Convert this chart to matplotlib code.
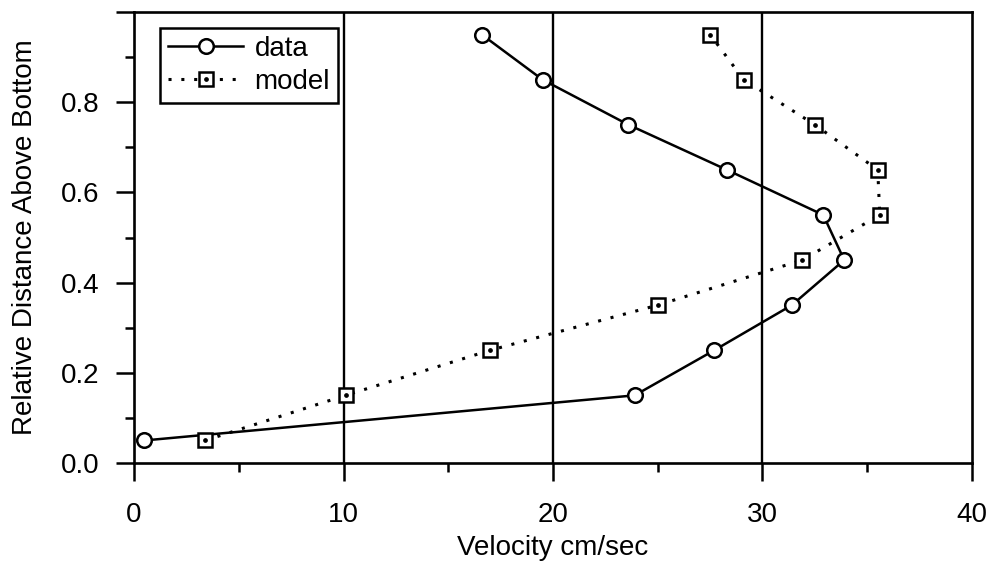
import matplotlib.pyplot as plt
from matplotlib.ticker import MultipleLocator
from matplotlib.legend_handler import HandlerTuple

# relative height above bottom (same for both series)
height = [0.05, 0.15, 0.25, 0.35, 0.45, 0.55, 0.65, 0.75, 0.85, 0.95]

# measured velocity profile
data_velocity = [0.5, 23.9, 27.7, 31.4, 33.9, 32.9, 28.3, 23.6, 19.5, 16.6]

# model velocity profile
model_velocity = [3.4, 10.1, 17.0, 25.0, 31.9, 35.6, 35.5, 32.5, 29.1, 27.5]

x_ticks = [0, 10, 20, 30, 40]
y_ticks = [0.0, 0.2, 0.4, 0.6, 0.8, 1.0]
y_tick_labels = ["0.0", "0.2", "0.4", "0.6", "0.8", ""]

plt.rcParams["font.family"] = ["Liberation Sans", "DejaVu Sans"]

fig = plt.figure(figsize=(9.89, 5.69), dpi=100)
ax = fig.add_axes([0.1355, 0.1863, 0.8473, 0.7926])

# vertical grid lines at the inner major x ticks
for gx in x_ticks[1:-1]:
    ax.axvline(gx, color="black", lw=1.7, zorder=1)

data_line, = ax.plot(data_velocity, height, color="black", lw=1.8,
                     marker="o", markersize=10.5, markerfacecolor="white",
                     markeredgecolor="black", markeredgewidth=1.8, zorder=3)

model_line, = ax.plot(model_velocity, height, color="black", lw=2.2,
                      linestyle=(0, (1, 3.2)), marker="s", markersize=10,
                      markerfacecolor="white", markeredgecolor="black",
                      markeredgewidth=1.8, zorder=3)
# small dot inside each square
model_dot, = ax.plot(model_velocity, height, linestyle="none", marker="o",
                     markersize=2.4, color="black", zorder=4)

ax.set_xlim(0, 40)
ax.set_ylim(0, 1.0)
ax.set_xticks(x_ticks)
ax.set_yticks(y_ticks)
ax.set_yticklabels(y_tick_labels)
ax.xaxis.set_minor_locator(MultipleLocator(5))
ax.yaxis.set_minor_locator(MultipleLocator(0.1))

ax.tick_params(which="major", direction="out", length=13, width=1.8,
               labelsize=20)
ax.tick_params(axis="y", which="major", pad=12)
ax.tick_params(axis="x", which="major", pad=15)
ax.tick_params(which="minor", direction="out", length=6.5, width=1.8)
ax.tick_params(top=False, right=False, which="both")

for sp in ax.spines.values():
    sp.set_linewidth(1.9)

ax.set_xlabel("Velocity cm/sec", fontsize=20, labelpad=5)
ax.set_ylabel("Relative Distance Above Bottom", fontsize=20, labelpad=16)

leg = ax.legend([data_line, (model_line, model_dot)], ["data", "model"],
                handler_map={tuple: HandlerTuple(ndivide=1)},
                loc="upper left", bbox_to_anchor=(0.031, 0.965),
                borderaxespad=0, fontsize=20, handlelength=2.7,
                handletextpad=0.4, labelspacing=0.25, borderpad=0.3,
                fancybox=False, framealpha=1)
leg.get_frame().set_edgecolor("black")
leg.get_frame().set_linewidth(1.8)

fig.savefig("out.png", dpi=100)
